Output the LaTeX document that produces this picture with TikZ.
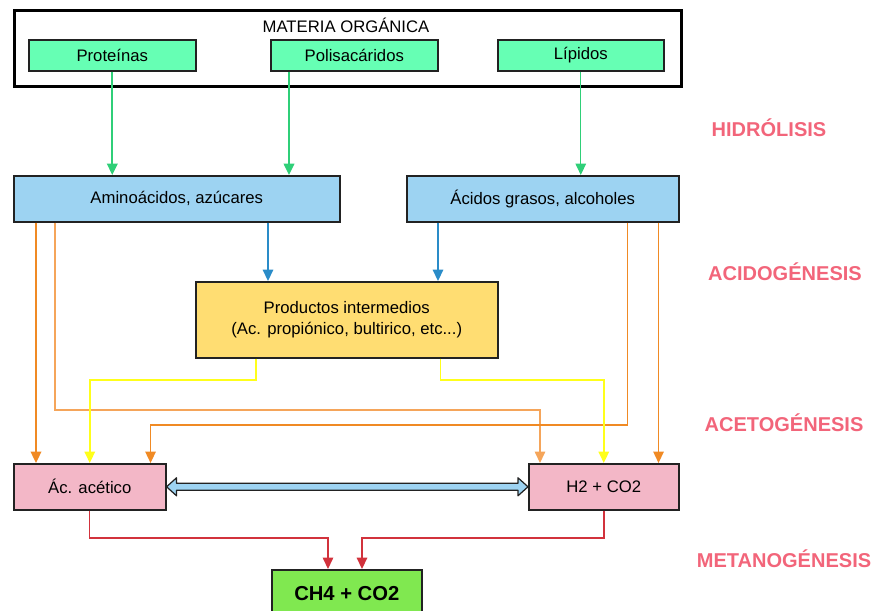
\documentclass[tikz,border=0pt]{standalone}
\usepackage{fontspec}
\setmainfont{Liberation Sans}
\usetikzlibrary{positioning,arrows.meta,calc}
\definecolor{cMint}{HTML}{66FFB4}
\definecolor{cSky}{HTML}{9DD3F2}
\definecolor{cSand}{HTML}{FFDD72}
\definecolor{cRose}{HTML}{F3B7C7}
\definecolor{cLime}{HTML}{80E850}
\definecolor{cLeaf}{HTML}{2FCF78}
\definecolor{cBlue}{HTML}{2A8CC8}
\definecolor{cOrange}{HTML}{F08A24}
\definecolor{cPeach}{HTML}{F5A55A}
\definecolor{cYellow}{HTML}{FFFF1A}
\definecolor{cRed}{HTML}{D2323C}
\definecolor{cPhase}{HTML}{F2657A}
\definecolor{cEdge}{HTML}{222222}

\begin{document}
\begin{tikzpicture}[x=0.02cm,y=-0.02cm,
    font=\fontsize{9.5}{11.9}\selectfont,
    caja/.style={draw=cEdge,line width=0.9pt,inner sep=0pt,align=center,anchor=north west},
    flecha/.style={-{Triangle[width=6pt,length=6.5pt]}},
    fase/.style={text=cPhase,font=\fontsize{11.4}{13}\selectfont\bfseries}]
  \useasboundingbox (0,0) rectangle (873,611);

  % materia organica
  \node[caja,draw=black,line width=1.6pt,minimum width=13.34cm,minimum height=1.52cm] (materia) at (13,9) {};
  \node (titulo) at (346,25) {MATERIA ORGÁNICA};
  \node[caja,fill=cMint,minimum width=3.34cm,minimum height=0.62cm] (prot) at (28,39) {Proteínas};
  \node[caja,fill=cMint,minimum width=3.34cm,minimum height=0.62cm] (poli) at (270,39) {Polisacáridos};
  \node[caja,fill=cMint,minimum width=3.32cm,minimum height=0.62cm] (lip) at (497,39) {Lípidos};

  % productos
  \node[caja,fill=cSky,minimum width=6.52cm,minimum height=0.92cm] (amino) at (13,175) {Aminoácidos, azúcares};
  \node[caja,fill=cSky,minimum width=5.44cm,minimum height=0.92cm] (acgr) at (406,175) {Ácidos grasos, alcoholes};
  \node[caja,fill=cSand,minimum width=6.04cm,minimum height=1.52cm] (prod) at (195,281)
    {Productos intermedios\\(Ac. propiónico, bultirico, etc...)};
  \node[caja,fill=cRose,minimum width=3.04cm,minimum height=0.92cm] (acet) at (13,463) {Ác. acético};
  \node[caja,fill=cRose,minimum width=3.0cm,minimum height=0.92cm] (h2) at (528,463) {H2 + CO2};
  \node[caja,fill=cLime,minimum width=3.0cm,minimum height=0.94cm] (ch4) at (271,569)
    {\fontsize{11.5}{13}\selectfont\bfseries CH4 + CO2};

  % fases
  \node[fase] (hidro) at (769,128) {HIDRÓLISIS};
  \node[fase] (acido) at (785,272) {ACIDOGÉNESIS};
  \node[fase] (aceto) at (784,423) {ACETOGÉNESIS};
  \node[fase] (metano) at (784,559) {METANOGÉNESIS};

  % carriles horizontales
  \coordinate (yAm) at (0,380);
  \coordinate (yPeach) at (0,410);
  \coordinate (yOr) at (0,425);
  \coordinate (yRed) at (0,538);

  % hidrolisis
  \coordinate (pPoli) at ($(poli.south west)+(19,0)$);
  \draw[flecha,cLeaf,line width=1.2pt] (prot.south) -- (prot.south |- amino.north);
  \draw[flecha,cLeaf,line width=1.2pt] (pPoli) -- (pPoli |- amino.north);
  \draw[flecha,cLeaf,line width=0.8pt] (lip.south) -- (lip.south |- acgr.north);

  % acidogenesis
  \coordinate (bAm) at ($(amino.south west)+(255,0)$);
  \coordinate (bAc) at ($(acgr.south west)+(32,0)$);
  \draw[flecha,cBlue,line width=0.9pt] (bAm) -- (bAm |- prod.north);
  \draw[flecha,cBlue,line width=0.9pt] (bAc) -- (bAc |- prod.north);

  % acetogenesis
  \coordinate (o1) at ($(amino.south west)+(23,0)$);
  \coordinate (o2) at ($(amino.south west)+(42,0)$);
  \coordinate (o2e) at ($(h2.north west)+(12,0)$);
  \coordinate (o3) at ($(acgr.south east)+(-52,0)$);
  \coordinate (o3e) at ($(acet.north east)+(-16,0)$);
  \coordinate (o4) at ($(acgr.south east)+(-21,0)$);
  \draw[flecha,cOrange,line width=1.1pt] (o1) -- (o1 |- acet.north);
  \draw[flecha,cPeach,line width=0.7pt] (o2) |- (yPeach -| o2e) -- (o2e);
  \draw[flecha,cOrange,line width=0.7pt] (o3) |- (yOr -| o3e) -- (o3e);
  \draw[flecha,cOrange,line width=0.7pt] (o4) -- (o4 |- h2.north);

  \coordinate (y1) at ($(prod.south west)+(61,0)$);
  \coordinate (y2) at ($(prod.south east)+(-58,0)$);
  \draw[flecha,cYellow,line width=0.9pt] (y1) |- (yAm -| acet.north) -- (acet.north);
  \draw[flecha,cYellow,line width=0.9pt] (y2) |- (yAm -| h2.north) -- (h2.north);

  % flecha doble
  \filldraw[fill=cSky,draw=cEdge,line width=0.7pt,line join=round]
    (acet.east) -- ++(10,-9) -- ++(0,5.5) -- ($(h2.west)+(-10,-3.5)$) -- ++(0,-5.5)
    -- (h2.west) -- ++(-10,9) -- ++(0,-5.5) -- ($(acet.east)+(10,3.5)$) -- ++(0,5.5) -- cycle;

  % metanogenesis
  \coordinate (r1e) at ($(ch4.north west)+(57,0)$);
  \coordinate (r2e) at ($(ch4.north west)+(91,0)$);
  \draw[flecha,cRed,line width=0.7pt] (acet.south) |- (yRed -| r1e) -- (r1e);
  \draw[flecha,cRed,line width=0.9pt] (h2.south) |- (yRed -| r2e) -- (r2e);
\end{tikzpicture}
\end{document}
